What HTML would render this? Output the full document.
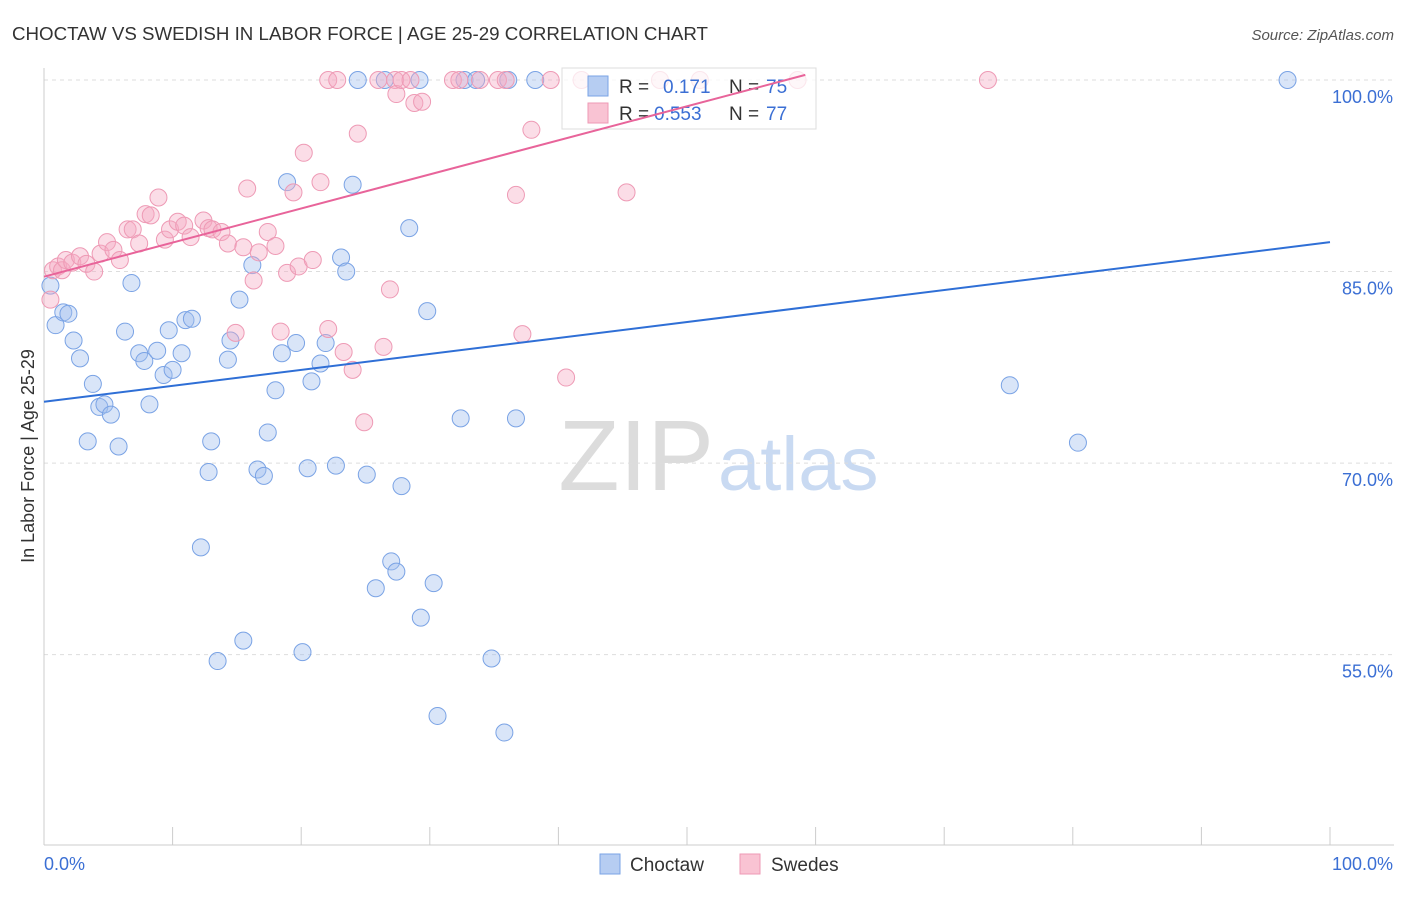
<!DOCTYPE html>
<html><head><meta charset="utf-8"><style>
body{margin:0;background:#fff;font-family:"Liberation Sans",sans-serif;}
svg text{font-family:"Liberation Sans",sans-serif;}
</style></head><body>
<svg id="chart" width="1406" height="892" xmlns="http://www.w3.org/2000/svg">
<text x="12" y="40" font-size="18" fill="#333" textLength="696" lengthAdjust="spacingAndGlyphs">CHOCTAW VS SWEDISH IN LABOR FORCE | AGE 25-29 CORRELATION CHART</text>
<text x="1394" y="40" font-size="15" fill="#555" font-style="italic" text-anchor="end">Source: ZipAtlas.com</text>
<text x="714" y="490" font-size="100" fill="#dcdcdc" font-family="Liberation Serif" text-anchor="end">ZIP</text>
<text x="718" y="490" font-size="76" fill="#c9daf2">atlas</text>
<text x="34" y="456" font-size="18" fill="#333" text-anchor="middle" transform="rotate(-90 34 456)">In Labor Force | Age 25-29</text>
<g id="grid"></g><g id="axes"></g><g id="pts"></g>
<g>
<rect x="562" y="68" width="254" height="61" fill="rgba(255,255,255,0.75)" stroke="#ddd"/>
<rect x="588" y="76" width="20" height="20" fill="#b6cdf2" stroke="#7aa3e5"/>
<rect x="588" y="103" width="20" height="20" fill="#f9c3d3" stroke="#ee9ab5"/>
<text x="619" y="93" font-size="19" fill="#333">R = </text><text x="663" y="93" font-size="19" fill="#3b6fd4">0.171</text>
<text x="729" y="93" font-size="19" fill="#333">N = </text><text x="766" y="93" font-size="19" fill="#3b6fd4">75</text>
<text x="619" y="120" font-size="19" fill="#333">R = </text><text x="654" y="120" font-size="19" fill="#3b6fd4">0.553</text>
<text x="729" y="120" font-size="19" fill="#333">N = </text><text x="766" y="120" font-size="19" fill="#3b6fd4">77</text>
</g>
<g id="lines"></g>
<g>
<rect x="600" y="854" width="20" height="20" fill="#b6cdf2" stroke="#7aa3e5"/>
<text x="630" y="871" font-size="19" fill="#333">Choctaw</text>
<rect x="740" y="854" width="20" height="20" fill="#f9c3d3" stroke="#ee9ab5"/>
<text x="771" y="871" font-size="19" fill="#333">Swedes</text>
</g>
</svg>
<script>
const yTicks=[100,85,70,55];
const yTickLabels=["100.0%","85.0%","70.0%","55.0%"];
const xTickLabels=["0.0%","100.0%"];
const bluePx=[[50,285],[55,325],[63,313],[68,314],[73,341],[80,359],[88,442],[93,384],[99,407],[104,404],[111,414],[118,446],[125,332],[132,283],[139,353],[144,361],[150,404],[157,351],[164,375],[169,330],[172,370],[182,353],[186,320],[192,319],[201,548],[208,472],[211,442],[218,661],[228,360],[231,341],[240,300],[243,641],[252,265],[258,470],[264,476],[268,432],[275,390],[282,353],[287,182],[296,343],[302,652],[308,468],[311,382],[321,363],[326,343],[336,466],[341,258],[346,271],[352,185],[358,80],[367,475],[376,588],[385,80],[391,562],[396,572],[402,486],[409,228],[419,80],[421,618],[427,311],[434,583],[437,716],[461,419],[464,80],[476,80],[492,658],[504,733],[508,80],[516,419],[535,80],[1010,385],[1078,443],[1287,80]];
const pinkPx=[[50,300],[53,270],[58,266],[62,270],[66,260],[72,262],[80,256],[87,264],[94,271],[100,254],[107,242],[113,250],[120,260],[127,229],[133,230],[139,243],[145,214],[151,216],[158,197],[165,240],[170,230],[178,222],[184,225],[190,237],[203,220],[208,228],[213,230],[221,232],[228,243],[236,333],[243,247],[247,188],[254,280],[259,252],[268,232],[275,246],[280,332],[287,273],[293,192],[299,267],[304,153],[313,260],[320,182],[328,80],[328,329],[337,80],[343,352],[353,370],[358,133],[364,422],[379,80],[383,347],[390,290],[395,80],[396,94],[402,80],[411,80],[414,103],[422,102],[453,80],[460,80],[480,80],[498,80],[506,80],[516,195],[523,334],[531,130],[551,80],[566,378],[582,80],[626,193],[660,80],[700,80],[797,80],[988,80]];
const choctawX=bluePx.map(p=>+((p[0]-44)/12.86).toFixed(1));
const choctawY=bluePx.map(p=>+(100-(p[1]-80)/12.77).toFixed(1));
const swedesX=pinkPx.map(p=>+((p[0]-44)/12.86).toFixed(1));
const swedesY=pinkPx.map(p=>+(100-(p[1]-80)/12.77).toFixed(1));
const blueTrend=[[0,74.8],[100,87.3]];
const pinkTrend=[[0,84.6],[59.2,100.4]];
const NS="http://www.w3.org/2000/svg";
const sx=v=>44+v*12.86, sy=v=>80+(100-v)*12.77;
function mk(t,a,parent){const e=document.createElementNS(NS,t);for(const k in a)e.setAttribute(k,a[k]);document.getElementById(parent).appendChild(e);return e;}
yTicks.forEach((t,i)=>{
 const g=mk('line',{x1:44,x2:1394,y1:sy(t),y2:sy(t),stroke:'#ddd','stroke-dasharray':'4,4'},'grid');
 
 
 const l=mk('text',{x:1393,y:sy(t)+23,'font-size':18,fill:'#3b6fd4','text-anchor':'end'},'axes');l.textContent=yTickLabels[i];
 
 
});
mk('line',{x1:44,x2:44,y1:68,y2:845,stroke:'#ccc'},'axes');
mk('line',{x1:44,x2:1394,y1:845,y2:845,stroke:'#ccc'},'axes');
for(let i=0;i<=10;i++){const x=sx(i*10);const t=mk('line',{x1:x,x2:x,y1:827,y2:845,stroke:'#ccc'},'axes');
 
 }
const x0=mk('text',{x:44,y:870,'font-size':18,fill:'#3b6fd4'},'axes');x0.textContent=xTickLabels[0];


const x1=mk('text',{x:1393,y:870,'font-size':18,fill:'#3b6fd4','text-anchor':'end'},'axes');x1.textContent=xTickLabels[1];


choctawX.forEach((x,i)=>{const c=mk('circle',{cx:sx(x),cy:sy(choctawY[i]),r:8.5,fill:'rgba(160,190,238,0.4)',stroke:'#7aa3e5','stroke-width':1},'pts');
 
 });
swedesX.forEach((x,i)=>{const c=mk('circle',{cx:sx(x),cy:sy(swedesY[i]),r:8.5,fill:'rgba(245,170,195,0.4)',stroke:'#ee9ab5','stroke-width':1},'pts');
 
 });
const bl=mk('line',{x1:sx(blueTrend[0][0]),y1:sy(blueTrend[0][1]),x2:sx(blueTrend[1][0]),y2:sy(blueTrend[1][1]),stroke:'#2f6fd6','stroke-width':2},'lines');


const pl=mk('line',{x1:sx(pinkTrend[0][0]),y1:sy(pinkTrend[0][1]),x2:sx(pinkTrend[1][0]),y2:sy(pinkTrend[1][1]),stroke:'#e8649a','stroke-width':2},'lines');


</script>
</body></html>
